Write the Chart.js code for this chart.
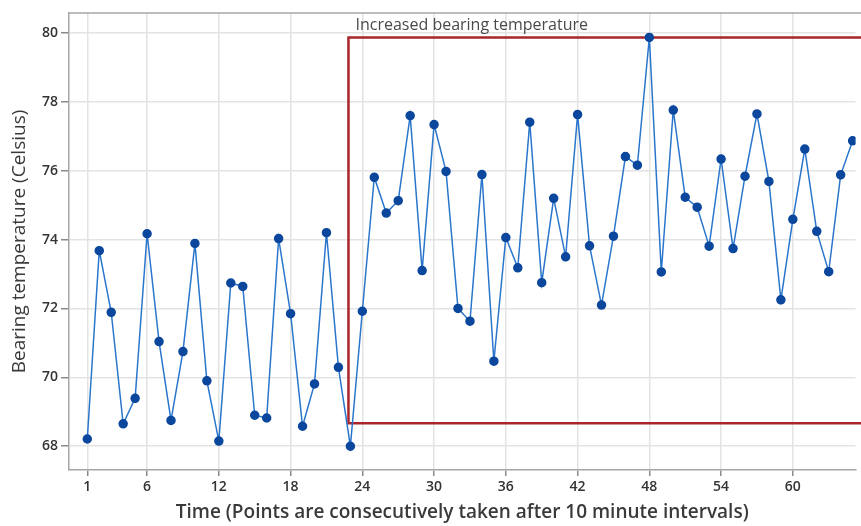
<!DOCTYPE html>
<html>
<head>
<meta charset="utf-8">
<script src="https://cdn.jsdelivr.net/npm/chart.js@4.4.1/dist/chart.umd.min.js"></script>
<style>
  html, body { margin: 0; padding: 0; background: #fff; }
  #wrap { width: 861px; height: 526px; }
</style>
</head>
<body>
<div id="wrap"><canvas id="myChart"></canvas></div>
<script>
// bearing temperature readings, one every 10 minutes
const temps = [68.21, 73.68, 71.89, 68.65, 69.39, 74.17, 71.04, 68.75, 70.75, 73.89,
  69.90, 68.15, 72.74, 72.64, 68.90, 68.82, 74.03, 71.85, 68.58, 69.81,
  74.20, 70.29, 68.00, 71.92, 75.81, 74.77, 75.13, 77.60, 73.10, 77.34,
  75.98, 72.00, 71.63, 75.89, 70.47, 74.06, 73.18, 77.41, 72.75, 75.20,
  73.50, 77.63, 73.82, 72.10, 74.10, 76.41, 76.16, 79.87, 73.06, 77.76,
  75.23, 74.94, 73.81, 76.34, 73.74, 75.84, 77.65, 75.69, 72.25, 74.59,
  76.63, 74.24, 73.07, 75.88, 76.87];
const xTicks = [1, 6, 12, 18, 24, 30, 36, 42, 48, 54, 60];
const yTicks = [68, 70, 72, 74, 76, 78, 80];
// highlighted region (x start, low, high) in data units
const boxStart = 22.84;
const boxLow = 68.67;
const boxHigh = 79.87;
const boxLabel = 'Increased bearing temperature';

const points = temps.map((t, i) => ({ x: i + 1, y: t }));

const regionBox = {
  id: 'regionBox',
  beforeDatasetsDraw(chart) {
    const c = chart.ctx, xs = chart.scales.x, ys = chart.scales.y;
    const area = chart.chartArea;
    // top frame line
    c.save();
    c.strokeStyle = '#a6a6a6';
    c.lineWidth = 1.5;
    c.beginPath();
    c.moveTo(area.left, area.top);
    c.lineTo(area.right + 20, area.top);
    c.stroke();
    // red box
    const x0 = xs.getPixelForValue(boxStart);
    const y0 = ys.getPixelForValue(boxHigh);
    const y1 = ys.getPixelForValue(boxLow);
    c.strokeStyle = '#a8262a';
    c.lineWidth = 2.5;
    c.beginPath();
    c.moveTo(area.right + 20, y0);
    c.lineTo(x0, y0);
    c.lineTo(x0, y1);
    c.lineTo(area.right + 20, y1);
    c.stroke();
    c.fillStyle = '#4a4a4a';
    c.font = '16px "Open Sans"';
    c.textBaseline = 'alphabetic';
    c.fillText(boxLabel, x0 + 7, y0 - 7);
    c.restore();
  }
};

const ctx = document.getElementById('myChart');
const myChart = new Chart(ctx, {
  type: 'line',
  data: {
    datasets: [{
      data: points,
      borderColor: '#2a76cc',
      borderWidth: 1.5,
      backgroundColor: '#0b479c',
      pointBackgroundColor: '#0b479c',
      pointBorderColor: '#0b479c',
      pointRadius: 4,
      pointStyle: 'circle',
      tension: 0
    }]
  },
  options: {
    responsive: true,
    maintainAspectRatio: false,
    animation: false,
    layout: { padding: { top: 13, right: 0, left: 0, bottom: 0 } },
    plugins: { legend: { display: false }, tooltip: { enabled: false } },
    scales: {
      x: {
        type: 'linear',
        min: -0.53,
        max: 65.24,
        afterBuildTicks: (s) => { s.ticks = xTicks.map(v => ({ value: v })); },
        afterFit: (s) => { s.height = 56; },
        grid: { color: '#e3e3e3', lineWidth: 1.5, tickLength: 6, tickColor: '#8a8a8a' },
        border: { color: '#a6a6a6', width: 1.5 },
        ticks: { color: '#333', padding: 3, maxRotation: 0, autoSkip: false,
          font: { family: '"Open Sans"', size: 14, weight: '600' } },
        title: { display: true, text: 'Time (Points are consecutively taken after 10 minute intervals)',
          color: '#3a3a3a', padding: { top: 0, bottom: 2 },
          font: { family: '"Open Sans"', size: 19, weight: '600' } }
      },
      y: {
        min: 67.31,
        max: 80.58,
        afterBuildTicks: (s) => { s.ticks = yTicks.map(v => ({ value: v })); },
        afterFit: (s) => { s.width = 69; },
        grid: { color: '#e3e3e3', lineWidth: 1.5, tickLength: 8, tickColor: '#8a8a8a' },
        border: { color: '#a6a6a6', width: 1.5 },
        ticks: { color: '#333', padding: 3,
          font: { family: '"Open Sans"', size: 14, weight: '600' } },
        title: { display: true, text: 'Bearing temperature (Celsius)',
          color: '#3a3a3a', padding: { top: 8, bottom: 0 },
          font: { family: '"Open Sans"', size: 19, weight: 'normal' } }
      }
    }
  },
  plugins: [regionBox]
});
</script>
</body>
</html>
